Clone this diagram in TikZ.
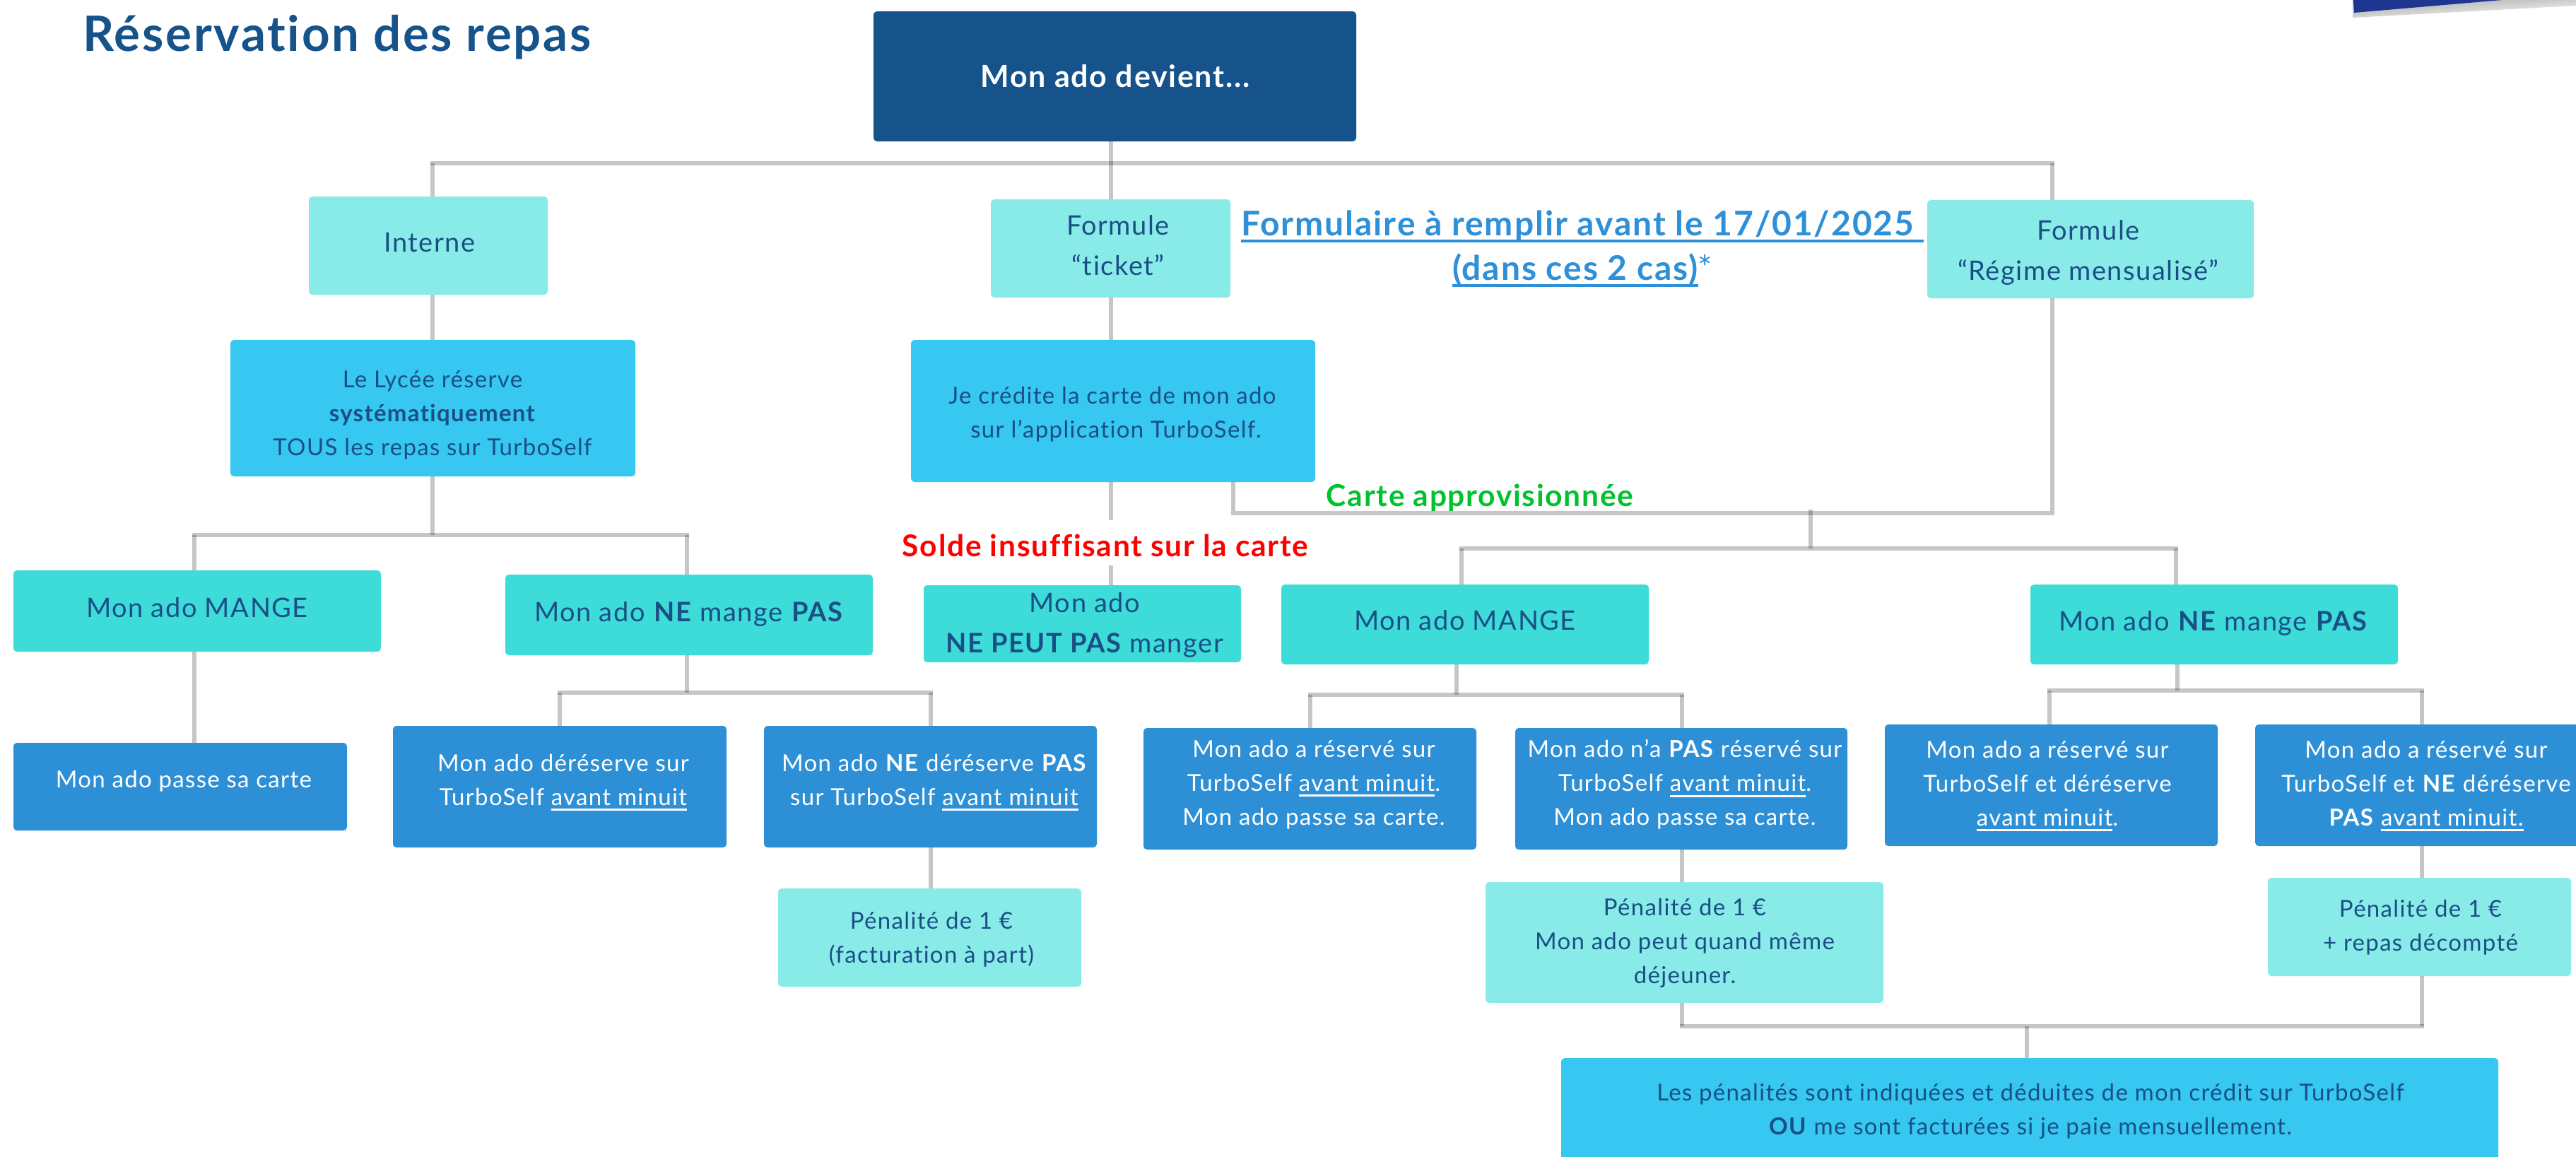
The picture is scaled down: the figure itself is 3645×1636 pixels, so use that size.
\documentclass[tikz,border=0pt]{standalone}
\usepackage{fontspec}
\setmainfont{Lato}[LetterSpace=4,Ligatures=NoCommon]
\definecolor{navy}{HTML}{15538A}
\definecolor{ink}{HTML}{1A4F86}
\definecolor{pale}{HTML}{89EBE8}
\definecolor{sky}{HTML}{36C8F1}
\definecolor{teal}{HTML}{3EDCD9}
\definecolor{mid}{HTML}{2D90D7}
\definecolor{linkb}{HTML}{2E90D8}
\definecolor{greenl}{HTML}{00C22E}
\definecolor{mark}{HTML}{1F3691}
\newcommand{\uln}[1]{\leavevmode\setbox0\hbox{#1}\rlap{\vrule width\wd0 height -5pt depth 8pt}\box0}
\newcommand{\ulb}[1]{\leavevmode\setbox0\hbox{#1}\rlap{\vrule width\wd0 height -6pt depth 10pt}\box0}
\tikzset{
  x=1pt,y=-1pt,
  boxs/.style={rounded corners=5pt,inner sep=0pt,outer sep=0pt,draw=none},
  bpale/.style={boxs,fill=pale},
  bsky/.style={boxs,fill=sky},
  bteal/.style={boxs,fill=teal},
  bmid/.style={boxs,fill=mid},
  broot/.style={boxs,fill=navy},
  lab/.style={inner sep=0pt,outer sep=0pt,align=center,text=ink,font=\fontsize{33}{48}\selectfont},
  labw/.style={lab,text=white},
  labt/.style={lab,font=\fontsize{38}{57}\selectfont},
  vline/.style={draw=black,draw opacity=.225,line width=6pt},
  hline/.style={draw=black,draw opacity=.225,line width=6pt,line cap=rect},
}
% name, x1,y1,x2,y2, style
\newcommand{\bx}[6]{\node[#6,minimum width=#4pt-#2pt,minimum height=#5pt-#3pt] (#1) at ({(#2+#4)/2},{(#3+#5)/2}) {};}
\begin{document}
\begin{tikzpicture}
\useasboundingbox (0,0) rectangle (3645,1636);
\path[fill=white] (0,0) rectangle (3645,1636);
% corner mark
\shade[top color=black!35,bottom color=white,shading angle=4] (3329,0) -- (3329,25) -- (3645,8) -- (3645,0) -- cycle;
\path[fill=mark] (3330,0) -- (3331,18) -- (3540,0) -- cycle;
% connector junctions
\coordinate (jA) at (612,231);
\coordinate (jB) at (1572,231);
\coordinate (jC) at (2904,231);
\coordinate (jD) at (612,757);
\coordinate (jE) at (275,757);
\coordinate (jF) at (972,757);
\coordinate (jG) at (1745,726);
\coordinate (jH) at (2904,726);
\coordinate (jI) at (2562,721);
\coordinate (jJ) at (2562,776);
\coordinate (jK) at (2068,776);
\coordinate (jL) at (3079,776);
\coordinate (jM) at (972,980);
\coordinate (jN) at (792,980);
\coordinate (jO) at (1317,980);
\coordinate (jP) at (2061,983);
\coordinate (jQ) at (1854,983);
\coordinate (jR) at (2380,983);
\coordinate (jS) at (3081,977);
\coordinate (jT) at (2900,977);
\coordinate (jU) at (3427,977);
\coordinate (jV) at (2380,1452);
\coordinate (jW) at (3427,1452);
\coordinate (jX) at (2868,1452);
\coordinate (gap1) at (1572,736);
\coordinate (gap2) at (1572,800);
\bx{root}{1236}{16}{1919}{200}{broot}
\bx{interne}{437}{278}{775}{417}{bpale}
\bx{ticket}{1402}{282}{1741}{421}{bpale}
\bx{regime}{2727}{283}{3189}{422}{bpale}
\bx{lycee}{326}{481}{899}{674}{bsky}
\bx{credit}{1289}{481}{1861}{682}{bsky}
\bx{mangeA}{19}{807}{539}{922}{bteal}
\bx{nemA}{715}{813}{1235}{927}{bteal}
\bx{peut}{1307}{828}{1756}{937}{bteal}
\bx{mangeB}{1813}{827}{2333}{940}{bteal}
\bx{nemB}{2873}{827}{3393}{940}{bteal}
\bx{passe}{19}{1051}{491}{1175}{bmid}
\bx{der}{556}{1027}{1028}{1199}{bmid}
\bx{nder}{1081}{1027}{1552}{1199}{bmid}
\bx{penA}{1101}{1257}{1530}{1396}{bpale}
\bx{resA}{1618}{1030}{2089}{1202}{bmid}
\bx{resB}{2144}{1030}{2614}{1202}{bmid}
\bx{penB}{2102}{1248}{2665}{1419}{bpale}
\bx{resC}{2667}{1025}{3138}{1197}{bmid}
\bx{resD}{3191}{1025}{3660}{1197}{bmid}
\bx{penC}{3209}{1242}{3638}{1381}{bpale}
\bx{bot}{2209}{1497}{3535}{1660}{bsky}
% connectors
\draw[vline] (root.south -| jB) -- (ticket.north -| jB);
\draw[hline] (jA) -- (jC);
\draw[vline] (jA) -- (interne.north -| jA);
\draw[vline] (jC) -- (regime.north -| jC);
\draw[vline] (interne.south -| jA) -- (lycee.north -| jA);
\draw[vline] (ticket.south -| jB) -- (credit.north -| jB);
\draw[vline] (regime.south -| jC) -- ([yshift=3pt]jH);
\draw[vline] (lycee.south -| jD) -- (jD);
\draw[hline] (jE) -- (jF);
\draw[vline] (jE) -- (mangeA.north -| jE);
\draw[vline] (jF) -- (nemA.north -| jF);
\draw[vline] (credit.south -| jB) -- (gap1);
\draw[vline] (gap2) -- (peut.north -| jB);
\draw[vline] (credit.south -| jG) -- ([yshift=3pt]jG);
\draw[hline] (jG) -- (jH);
\draw[vline] (jI) -- (jJ);
\draw[hline] (jK) -- (jL);
\draw[vline] (jK) -- (mangeB.north -| jK);
\draw[vline] (jL) -- (nemB.north -| jL);
\draw[vline] (mangeA.south -| jE) -- (passe.north -| jE);
\draw[vline] (nemA.south -| jM) -- (jM);
\draw[hline] (jN) -- (jO);
\draw[vline] (jN) -- (der.north -| jN);
\draw[vline] (jO) -- (nder.north -| jO);
\draw[vline] (nder.south -| jO) -- (penA.north -| jO);
\draw[vline] (mangeB.south -| jP) -- (jP);
\draw[hline] (jQ) -- (jR);
\draw[vline] (jQ) -- (resA.north -| jQ);
\draw[vline] (jR) -- (resB.north -| jR);
\draw[vline] (resB.south -| jR) -- (penB.north -| jR);
\draw[vline] (penB.south -| jR) -- (jV);
\draw[vline] (nemB.south -| jS) -- (jS);
\draw[hline] (jT) -- (jU);
\draw[vline] (jT) -- (resC.north -| jT);
\draw[vline] (jU) -- (resD.north -| jU);
\draw[vline] (resD.south -| jU) -- (penC.north -| jU);
\draw[vline] (penC.south -| jU) -- (jW);
\draw[hline] (jV) -- (jW);
\draw[vline] (jX) -- (bot.north -| jX);
% texts
\node[anchor=base west,inner sep=0pt,text=navy,font=\fontsize{69}{80}\selectfont\bfseries] (title) at (117,72) {Réservation des repas};
\node[lab,text=white,font=\fontsize{43}{50}\selectfont\bfseries] (troot) at (1578,108) {Mon ado devient...};
\node[labt] (tinterne) at (608,343) {Interne};
\node[labt] (tticket) at (1582,347) {Formule\\“ticket”};
\node[labt] (tregime) at (2955,357) {Formule\\“Régime mensualisé”};
\node[lab] (tlycee) at (612,587) {Le Lycée réserve\\\textbf{systématiquement}\\TOUS les repas sur TurboSelf};
\node[lab] (tcredit) at (1574,586) {Je crédite la carte de mon ado\\\hspace*{10pt}sur l’application TurboSelf.};
\node[labt] (tmangeA) at (279,860) {Mon ado MANGE};
\node[labt] (tnemA) at (975,869) {Mon ado \textbf{NE} mange \textbf{PAS}};
\node[labt] (tpeut) at (1535,884) {Mon ado\\\textbf{NE PEUT PAS} manger};
\node[labt] (tmangeB) at (2073,878) {Mon ado MANGE};
\node[labt] (tnemB) at (3132,882) {Mon ado \textbf{NE} mange \textbf{PAS}};
\node[labw] (tpasse) at (260,1105) {Mon ado passe sa carte};
\node[labw] (tder) at (797,1107) {Mon ado déréserve sur\\TurboSelf \uln{avant minuit}};
\node[labw] (tnder) at (1322,1107) {Mon ado \textbf{NE} déréserve \textbf{PAS}\\sur TurboSelf \uln{avant minuit}};
\node[lab] (tpenA) at (1318,1329) {Pénalité de 1 €\\(facturation à part)};
\node[labw] (tresA) at (1859,1110) {Mon ado a réservé sur\\TurboSelf \uln{avant minuit}.\\Mon ado passe sa carte.};
\node[labw] (tresB) at (2384,1110) {Mon ado n’a \textbf{PAS} réservé sur\\TurboSelf \uln{avant minuit}.\\Mon ado passe sa carte.};
\node[lab] (tpenB) at (2384,1334) {Pénalité de 1 €\\Mon ado peut quand même\\déjeuner.};
\node[labw] (tresC) at (2897,1112) {Mon ado a réservé sur\\TurboSelf et déréserve\\\uln{avant minuit}.};
\node[labw] (tresD) at (3433,1112) {Mon ado a réservé sur\\TurboSelf et \textbf{NE} déréserve\\\textbf{PAS} \uln{avant minuit.}};
\node[lab] (tpenC) at (3425,1312) {Pénalité de 1 €\\+ repas décompté};
\node[lab] (tbot) at (2873,1572) {Les pénalités sont indiquées et déduites de mon crédit sur TurboSelf\\\textbf{OU} me sont facturées si je paie mensuellement.};
\node[align=center,inner sep=0pt,text=linkb,font=\fontsize{48}{63}\selectfont\bfseries] (tform) at (2239,352) {\ulb{Formulaire à remplir avant le 17/01/2025 }\\\ulb{(dans ces 2 cas)}{\mdseries*}};
\node[inner sep=0pt,text=greenl,font=\fontsize{42.5}{48}\selectfont\bfseries] (tcarte) at (2094,704) {Carte approvisionnée};
\node[inner sep=0pt,text=red,font=\fontsize{42.5}{48}\selectfont\bfseries] (tsolde) at (1564,772) {Solde insuffisant sur la carte};
\end{tikzpicture}
\end{document}
